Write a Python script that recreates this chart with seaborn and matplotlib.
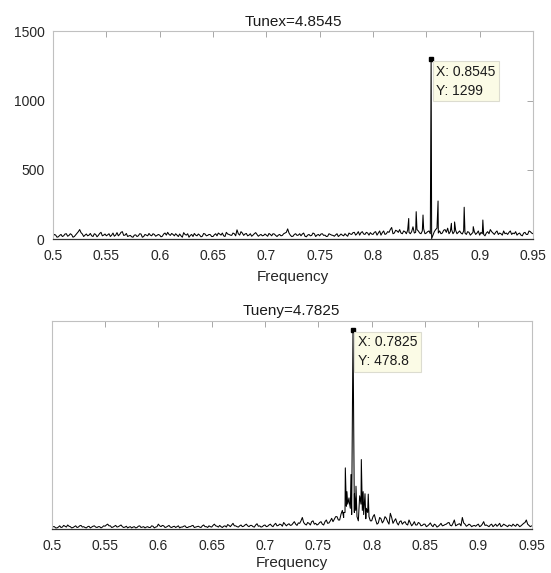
import numpy as np
import pandas as pd
import matplotlib
matplotlib.use("Agg")
import matplotlib.pyplot as plt
import seaborn as sns

# spectrum data, background read on a 0.0025 grid from 0.5 to 0.95,
# plus the in-between points (offset by half a step)
freq_step = 0.0025
noise_x = [22, 30, 18, 35, 25, 40, 28, 33, 20, 45, 70, 38, 30, 25, 42, 20, 35, 28, 50, 30,
           25, 40, 30, 22, 48, 35, 55, 30, 20, 28, 15, 32, 25, 38, 20, 30, 42, 25, 35, 28,
           30, 22, 45, 50, 28, 35, 40, 20, 25, 48, 30, 15, 35, 42, 25, 30, 22, 38, 28, 33,
           20, 40, 45, 30, 25, 50, 35, 28, 40, 68, 30, 45, 38, 25, 40, 30, 48, 22, 35, 28,
           30, 42, 25, 38, 20, 35, 28, 45, 75, 30, 22, 40, 30, 25, 45, 18, 35, 28, 40, 30,
           25, 40, 30, 22, 35, 28, 32, 20, 38, 25, 30, 45, 35, 50, 40, 30, 55, 35, 45, 48,
           35, 55, 45, 30, 60, 40, 50, 85, 45, 60, 70, 40, 55, 65, 40, 90, 50, 60, 40, 75,
           45, 60, 5, 55, 80, 60, 45, 70, 80, 55, 40, 65, 50, 45, 60, 35, 50, 40, 55, 45,
           30, 40, 25, 55, 70, 45, 50, 35, 40, 60, 45, 50, 35, 40, 30, 45, 25, 50, 35, 55,
           40]
mid_x = [35, 15, 28, 20, 38, 22, 40, 15, 32, 55, 48, 20, 38, 30, 25, 40, 18, 42, 25, 38,
         32, 20, 45, 30, 25, 50, 28, 42, 25, 18, 30, 20, 40, 15, 35, 25, 30, 40, 22, 35,
         18, 38, 30, 35, 42, 25, 30, 38, 15, 35, 40, 28, 20, 30, 38, 18, 42, 25, 35, 20,
         32, 25, 38, 45, 20, 38, 30, 45, 25, 40, 55, 28, 42, 30, 22, 40, 35, 30, 25, 38,
         22, 35, 40, 28, 30, 25, 40, 50, 45, 20, 35, 28, 40, 38, 22, 30, 25, 45, 20, 35,
         38, 28, 20, 40, 30, 22, 40, 28, 30, 40, 22, 38, 48, 30, 55, 48, 38, 50, 30, 38,
         50, 30, 60, 48, 35, 55, 70, 40, 65, 50, 45, 60, 40, 50, 55, 45, 70, 45, 60, 40,
         55, 40, 30, 70, 45, 40, 65, 50, 40, 70, 55, 40, 60, 38, 45, 55, 30, 50, 35, 60,
         50, 35, 45, 40, 55, 35, 60, 45, 30, 40, 35, 60, 45, 55, 40, 30, 45, 35, 60, 45]
spike_fx = [0.8335, 0.8405, 0.8469, 0.8545, 0.8610, 0.8735, 0.8765, 0.8855, 0.8940, 0.9030]
spike_x = [150, 199, 175, 1299, 276, 115, 125, 231, 91, 139]

noise_y = [4, 6, 3, 8, 5, 7, 10, 6, 4, 8, 5, 9, 6, 3, 7, 5, 8, 4, 6, 5,
           7, 12, 8, 5, 9, 6, 10, 4, 7, 5, 3, 6, 4, 8, 5, 3, 6, 4, 7, 5,
           12, 6, 8, 5, 9, 4, 7, 6, 3, 5, 8, 4, 6, 9, 5, 7, 4, 10, 6, 8,
           5, 12, 7, 9, 4, 8, 11, 6, 14, 8, 5, 10, 7, 12, 6, 9, 5, 13, 8, 6,
           10, 7, 12, 6, 14, 9, 11, 16, 8, 13, 10, 18, 9, 14, 28, 12, 16, 10, 20, 14,
           12, 18, 10, 22, 15, 26, 24, 30, 22, 45, 40, 60, 50, 20, 45, 20, 60, 35, 50, 30,
           20, 35, 12, 28, 15, 30, 18, 38, 14, 25, 10, 20, 16, 12, 22, 8, 18, 10, 14, 9,
           12, 8, 15, 6, 10, 7, 14, 9, 12, 16, 8, 22, 10, 13, 28, 12, 9, 10, 8, 7,
           12, 8, 18, 10, 6, 12, 9, 7, 14, 8, 10, 6, 9, 12, 7, 10, 8, 14, 22, 9,
           8]
mid_y = [6, 3, 5, 4, 9, 5, 7, 3, 6, 4, 8, 5, 4, 6, 3, 7, 5, 6, 3, 8,
         10, 8, 4, 7, 5, 8, 6, 5, 3, 6, 5, 3, 7, 4, 6, 5, 4, 8, 3, 6,
         8, 9, 4, 7, 5, 6, 4, 8, 5, 7, 4, 6, 8, 4, 6, 5, 8, 6, 4, 6,
         9, 8, 5, 6, 7, 5, 9, 10, 8, 6, 8, 6, 10, 8, 9, 6, 10, 7, 5, 9,
         6, 10, 8, 11, 8, 12, 7, 12, 11, 9, 14, 12, 15, 20, 16, 10, 14, 18, 12, 10,
         16, 12, 18, 14, 20, 18, 30, 22, 36, 28, 55, 75, 35, 40, 30, 80, 45, 85, 40, 20,
         30, 22, 15, 25, 20, 26, 12, 28, 20, 15, 18, 12, 18, 10, 15, 12, 10, 16, 8, 12,
         6, 11, 9, 12, 5, 10, 8, 11, 15, 9, 14, 8, 12, 8, 15, 7, 12, 6, 9, 10,
         6, 12, 9, 8, 10, 6, 12, 10, 6, 12, 8, 10, 7, 9, 12, 6, 11, 16, 12, 6]
spike_fy = [0.7738, 0.7753, 0.7768, 0.7790, 0.7806, 0.7825, 0.7838, 0.7853,
            0.7885, 0.7903, 0.7920, 0.7945, 0.7968]
spike_y = [40, 147, 90, 65, 131, 478.8, 85, 103, 70, 167, 90, 25, 84]

titles = ["Tunex=4.8545", "Tueny=4.7825"]
tips = [(0.8545, 1299, "X: 0.8545\nY: 1299"), (0.7825, 478.8, "X: 0.7825\nY: 478.8")]
xticks = [0.5, 0.55, 0.6, 0.65, 0.7, 0.75, 0.8, 0.85, 0.9, 0.95]


def build(noise, mid, sf, sv):
    grid = np.round(0.5 + freq_step * np.arange(len(noise)), 5)
    grid_mid = np.round(0.5 + freq_step / 2 + freq_step * np.arange(len(mid)), 5)
    base = pd.concat([pd.Series(noise, index=grid, dtype=float),
                      pd.Series(mid, index=grid_mid, dtype=float)])
    peaks = pd.Series(sv, index=np.round(sf, 5), dtype=float)
    s = peaks.combine_first(base).sort_index()
    return pd.DataFrame({"Frequency": s.index, "Amp": s.values})


sns.set_theme(style="white")
plt.rcParams["font.family"] = ["Liberation Sans", "DejaVu Sans"]

fig = plt.figure(figsize=(5.51, 5.73), dpi=100)
ax1 = fig.add_axes([0.0962, 0.5824, 0.8711, 0.3630])
ax2 = fig.add_axes([0.0938, 0.0765, 0.8711, 0.3638])

data = [build(noise_x, mid_x, spike_fx, spike_x), build(noise_y, mid_y, spike_fy, spike_y)]
ylims = [(0, 1500), (0, 500)]
label_pads = [5, 2]

for ax, df, title, tip, yl, lp in zip([ax1, ax2], data, titles, tips, ylims, label_pads):
    sns.lineplot(data=df, x="Frequency", y="Amp", ax=ax, color="black",
                 lw=0.75, estimator=None, sort=True)
    ax.set_xlim(0.5, 0.95)
    ax.set_ylim(*yl)
    ax.set_xticks(xticks)
    ax.set_xticklabels(["%g" % t for t in xticks])
    ax.set_title(title, fontsize=11, pad=4, color="#1a1a1a")
    ax.set_xlabel("Frequency", fontsize=11, labelpad=lp, color="#262626")
    ax.set_ylabel("")
    ax.tick_params(direction="in", length=4, width=0.6, color="#999999",
                   top=True, right=True, labelsize=10, labelcolor="#262626")
    ax.tick_params(axis="x", pad=7)
    ax.tick_params(axis="y", pad=6)
    for side in ["top", "left", "right"]:
        ax.spines[side].set_color("#c0c0c0")
        ax.spines[side].set_linewidth(0.8)
    ax.spines["bottom"].set_color("#333333")
    ax.spines["bottom"].set_linewidth(0.9)
    # data tip
    ax.plot(tip[0], tip[1], marker="s", ms=3.2, color="black")
    ax.annotate(tip[2], xy=(tip[0], tip[1]), xytext=(3.5, -4), textcoords="offset points",
                ha="left", va="top", fontsize=10, linespacing=1.45, color="#1a1a1a",
                bbox=dict(boxstyle="square,pad=0.25", fc="#fbfbe6", ec="#dcdcd0", lw=0.8))

ax1.set_yticks([0, 500, 1000, 1500])
ax2.set_yticks([])

fig.savefig("out.png", dpi=100)
